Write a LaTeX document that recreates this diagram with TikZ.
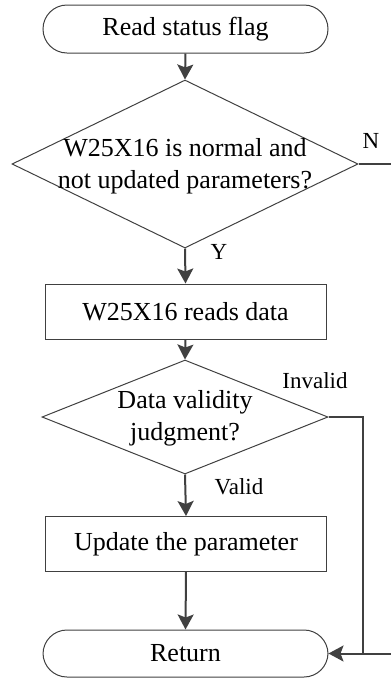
\documentclass[tikz,border=0pt]{standalone}
\usepackage{fontspec}
\setmainfont{Liberation Serif}
\usetikzlibrary{shapes.geometric,arrows.meta}
\definecolor{lc}{HTML}{404040}
\begin{document}
\begin{tikzpicture}[x=1pt,y=-1pt,
  term/.style={draw=lc,line width=1pt,rectangle,rounded corners=24pt,minimum width=285pt,minimum height=48pt,inner sep=0pt,font=\fontsize{26}{31}\selectfont},
  proc/.style={draw=lc,line width=1pt,rectangle,minimum width=281pt,minimum height=55pt,inner sep=0pt,font=\fontsize{26}{31}\selectfont},
  dia/.style={draw=lc,line width=1pt,diamond,inner sep=0pt},
  dtext/.style={align=center,inner sep=0pt,font=\fontsize{26}{32}\selectfont},
  lab/.style={inner sep=0pt,font=\fontsize{23}{27}\selectfont},
  conn/.style={draw=lc,line width=2pt},
  arr/.style={conn,-{Stealth[length=15pt,width=16pt,inset=3pt]}}]
\useasboundingbox (0,0) rectangle (391,678);
\node[term] (t1) at (185.5,29) {Read status flag};
\node[dia,minimum width=346pt,minimum height=168pt] (d1) at (185,164) {};
\node[dtext] (d1t) at (185,166) {W25X16 is normal and\\not updated parameters?};
\node[proc] (b2) at (185.5,311.5) {W25X16 reads data};
\node[dia,minimum width=286pt,minimum height=114pt] (d2) at (185,417) {};
\node[dtext] (d2t) at (185,418) {Data validity\\judgment?};
\node[proc] (b3) at (186,544) {Update the parameter};
\node[term,minimum height=47pt] (ret) at (185.5,653.5) {Return};
\coordinate (nout) at (391,164);
\coordinate (corner) at (363,417);
\coordinate (rin) at (391,653.5);
\node[lab] (ln) at (371,141) {N};
\node[lab] (ly) at (219,252) {Y};
\node[lab] (linv) at (315,381) {Invalid};
\node[lab] (lval) at (239,487) {Valid};
\draw[arr] (t1.south) -- (d1.north);
\draw[conn] (d1.east) -- (nout);
\draw[arr] (d1.south) -- (b2.north);
\draw[arr] (b2.south) -- (d2.north);
\draw[arr] (d2.south) -- (b3.north);
\draw[arr] (b3.south) -- (ret.north);
\draw[conn] (d2.east) -- (corner) -- (corner |- ret.east);
\draw[arr] (rin) -- (ret.east);
\end{tikzpicture}
\end{document}
